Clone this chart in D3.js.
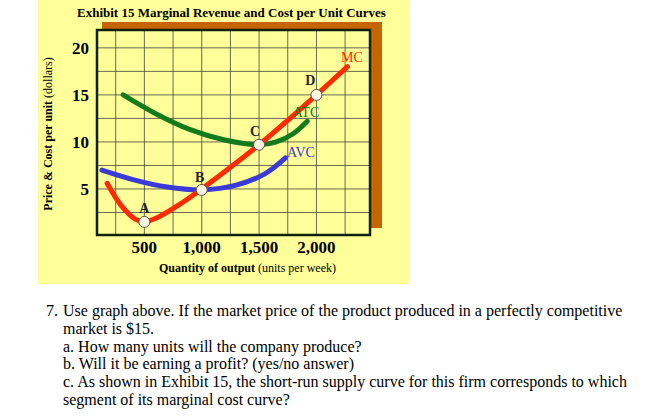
<!DOCTYPE html>
<html><head><meta charset="utf-8">
<script src="https://cdn.jsdelivr.net/npm/d3@7"></script>
<style>body{margin:0;background:#fff;} svg{display:block;}</style>
</head><body>
<script>
// curves: [quantity, dollars]
const mc = [[175,5.6],[300,3.2],[420,1.8],[500,1.5],[620,2.0],[800,3.3],[1000,5],[1250,7.3],[1500,9.7],[1750,12.3],[2000,15],[2270,18]];
const atc = [[315,15],[600,13],[900,11.3],[1200,10.2],[1500,9.7],[1650,10],[1800,10.9],[1920,12.2]];
const avc = [[130,7],[400,6],[700,5.2],[1000,4.9],[1300,5.4],[1550,6.6],[1730,8.3]];
const points = [{n:"A",q:500,v:1.5},{n:"B",q:1000,v:4.9},{n:"C",q:1500,v:9.7},{n:"D",q:2000,v:15}];
const xTicks = [500,1000,1500,2000];
const xTickLabels = ["500","1,000","1,500","2,000"];
const yTicks = [5,10,15,20];
const gridX = [250,500,750,1000,1250,1500,1750,2000,2250];
const gridY = [2.5,5,7.5,10,12.5,15,17.5,20];
const question = [
  ["7.","Use graph above. If the market price of the product produced in a perfectly competitive"],
  ["","market is $15."],
  ["","a. How many units will the company produce?"],
  ["","b. Will it be earning a profit? (yes/no answer)"],
  ["","c. As shown in Exhibit 15, the short-run supply curve for this firm corresponds to which"],
  ["","segment of its marginal cost curve?"]
];
const serif = "'Liberation Serif','Times New Roman',serif";

const svg = d3.select("body").append("svg").attr("width",659).attr("height",420);
const x = d3.scaleLinear().domain([87,2467]).range([97,370]);
const y = d3.scaleLinear().domain([0,21.9]).range([236,30]);

svg.append("rect").attr("x",38).attr("y",0).attr("width",371).attr("height",284).attr("fill","#ffff99");
svg.append("text").attr("x",77).attr("y",17).attr("font-family",serif).attr("font-weight","bold")
  .attr("font-size",13).text("Exhibit 15 Marginal Revenue and Cost  per Unit Curves");

// shadow + plot box
svg.append("rect").attr("x",102).attr("y",22).attr("width",280).attr("height",206).attr("fill","#c86400");
svg.append("rect").attr("x",97).attr("y",30).attr("width",273).attr("height",205).attr("fill","#ffff99");

const g = svg.append("g");
g.selectAll(".gx").data(gridX).join("line").attr("x1",d=>x(d)).attr("x2",d=>x(d)).attr("y1",30).attr("y2",235)
  .attr("stroke","#444").attr("stroke-width",0.8);
g.selectAll(".gy").data(gridY).join("line").attr("y1",d=>y(d)).attr("y2",d=>y(d)).attr("x1",97).attr("x2",370)
  .attr("stroke","#444").attr("stroke-width",0.8);
svg.append("rect").attr("x",97).attr("y",30).attr("width",273).attr("height",205).attr("fill","none")
  .attr("stroke","#102010").attr("stroke-width",2.5);

const line = d3.line().x(d=>x(d[0])).y(d=>y(d[1])).curve(d3.curveCatmullRom);
[[atc,"#137a1e"],[avc,"#3a3ad8"],[mc,"#ff2a00"]].forEach(([data,c])=>{
  svg.append("path").attr("d",line(data)).attr("fill","none").attr("stroke",c).attr("stroke-width",5).attr("stroke-linecap","round");
});

svg.selectAll(".pt").data(points).join("circle").attr("cx",d=>x(d.q)).attr("cy",d=>y(d.v)).attr("r",5.5)
  .attr("fill","#fff8e0").attr("stroke","#555").attr("stroke-width",1);
const lo = {A:[0,-9],B:[-2,-8],C:[-4,-9],D:[-6,-10]};
points.forEach(p=>svg.append("text").attr("x",x(p.q)+lo[p.n][0]).attr("y",y(p.v)+lo[p.n][1]).attr("fill","#222")
  .attr("font-family",serif).attr("font-weight","bold").attr("font-size",14).attr("text-anchor","middle").text(p.n));
const clab = (t,px,py,c)=>svg.append("text").attr("x",px).attr("y",py).attr("fill",c).attr("font-family",serif)
  .attr("font-size",14).attr("text-anchor","middle").text(t);
clab("MC",352,62,"#ff2a00");
clab("ATC",306,117,"#137a1e");
clab("AVC",301,157,"#3a3ad8");

svg.selectAll(".yt").data(yTicks).join("text").attr("x",89).attr("y",d=>y(d)+6).attr("text-anchor","end")
  .attr("font-family",serif).attr("font-weight","bold").attr("font-size",17).text(d=>d);
svg.selectAll(".xt").data(xTicks).join("text").attr("x",d=>x(d)).attr("y",253).attr("text-anchor","middle")
  .attr("font-family",serif).attr("font-weight","bold").attr("font-size",17).text((d,i)=>xTickLabels[i]);

const xt = svg.append("text").attr("x",159).attr("y",272).attr("font-family",serif).attr("font-size",12);
xt.append("tspan").attr("font-weight","bold").text("Quantity of output ");
xt.append("tspan").text(" (units per week)");
const yl = svg.append("text").attr("transform","translate(52,134) rotate(-90)").attr("text-anchor","middle")
  .attr("font-family",serif).attr("font-size",12);
yl.append("tspan").attr("font-weight","bold").text("Price & Cost per unit ");
yl.append("tspan").text("(dollars)");

const qt = svg.append("g").attr("font-family",serif).attr("font-size",16).attr("fill","#000");
question.forEach((r,i)=>{
  const yy = 316 + i*17.8;
  if (r[0]) qt.append("text").attr("x",46).attr("y",yy).text(r[0]);
  qt.append("text").attr("x",63).attr("y",yy).text(r[1]);
});
</script>
</body></html>
